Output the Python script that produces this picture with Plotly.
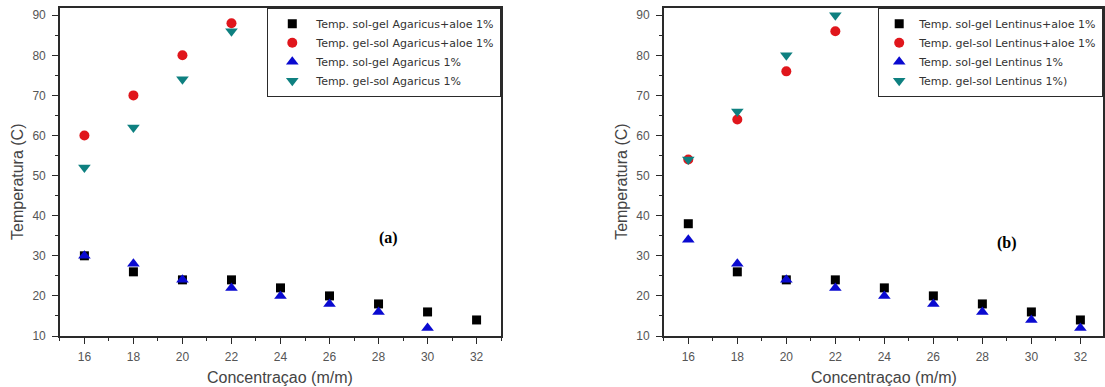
import plotly.graph_objects as go

# ---- data ----
conc = [16, 18, 20, 22, 24, 26, 28, 30, 32]
conc_gs = [16, 18, 20, 22]

# panel (a) Agaricus
a_solgel_aloe = [30, 26, 24, 24, 22, 20, 18, 16, 14]
a_gelsol_aloe = [60, 70, 80, 88]
a_solgel = [30, 28, 24, 22, 20, 18, 16, 12]
a_gelsol = [52, 62, 74, 86]

# panel (b) Lentinus
b_solgel_aloe = [38, 26, 24, 24, 22, 20, 18, 16, 14]
b_gelsol_aloe = [54, 64, 76, 86]
b_solgel = [34, 28, 24, 22, 20, 18, 16, 14, 12]
b_gelsol = [54, 66, 80, 90]

names_a = ["Temp. sol-gel Agaricus+aloe 1%", "Temp. gel-sol Agaricus+aloe 1%",
           "Temp. sol-gel Agaricus 1%", "Temp. gel-sol Agaricus 1%"]
names_b = ["Temp. sol-gel Lentinus+aloe 1%", "Temp. gel-sol Lentinus+aloe 1%",
           "Temp. sol-gel Lentinus 1%", "Temp. gel-sol Lentinus 1%)"]

x_ticks = [16, 18, 20, 22, 24, 26, 28, 30, 32]
y_ticks = [10, 20, 30, 40, 50, 60, 70, 80, 90]

BLACK = "#000000"
RED = "#e0161c"
BLUE = "#0a0ad0"
TEAL = "#0e8080"

styles = [
    dict(symbol="square", color=BLACK, size=9),
    dict(symbol="circle", color=RED, size=10),
    dict(symbol="triangle-up", color=BLUE, size=11),
    dict(symbol="triangle-down", color=TEAL, size=11),
]

W, H = 1105, 387
ML, MR, MT, MB = 0, 0, 8, 51
PH = H - MT - MB

FONT = "Arial, Liberation Sans, sans-serif"

fig = go.Figure()

def add_panel(xs_list, ys_list, names, xa, ya, legend):
    for xs, ys, nm, st in zip(xs_list, ys_list, names, styles):
        fig.add_trace(go.Scatter(
            x=xs, y=ys, mode="markers", name=nm,
            marker=dict(symbol=st["symbol"], color=st["color"], size=st["size"],
                        line=dict(width=0)),
            xaxis=xa, yaxis=ya, legend=legend, cliponaxis=False))

add_panel([conc, conc_gs, conc[:8], conc_gs],
          [a_solgel_aloe, a_gelsol_aloe, a_solgel, a_gelsol], names_a, "x", "y", "legend")
add_panel([conc, conc_gs, conc, conc_gs],
          [b_solgel_aloe, b_gelsol_aloe, b_solgel, b_gelsol], names_b, "x2", "y2", "legend2")

XR = [15, 33]
XR2 = [15, 15 + 440 / 24.55]
YR = [10, 91.8]

dom1 = [60 / W, 502 / W]
dom2 = [665 / W, 1.0]

tickfont = dict(family=FONT, size=12, color="#555555")
AX = "#2a2a2a"

def xaxis(dom, rng, anchor):
    return dict(domain=dom, range=rng, anchor=anchor, tickvals=x_ticks,
                ticks="outside", ticklen=6, tickwidth=1.3, tickcolor=AX,
                minor=dict(dtick=1, ticks="outside", ticklen=3, tickwidth=1.2, tickcolor=AX),
                showline=True, linecolor=AX, linewidth=1.5, mirror=True,
                showgrid=False, zeroline=False, tickfont=tickfont, ticklabelstandoff=3)

def yaxis(rng, anchor):
    return dict(range=rng, anchor=anchor, tickvals=y_ticks,
                ticks="outside", ticklen=6, tickwidth=1.3, tickcolor=AX,
                minor=dict(dtick=5, ticks="outside", ticklen=3, tickwidth=1.2, tickcolor=AX),
                showline=True, linecolor=AX, linewidth=1.5, mirror=True,
                showgrid=False, zeroline=False, tickfont=tickfont, ticklabelstandoff=4,
                domain=[0, 1])

def yaxis_right(rng, anchor, over):
    return dict(range=rng, anchor=anchor, overlaying=over, side="right", tickvals=y_ticks,
                ticks="inside", ticklen=6, tickwidth=1.3, tickcolor=AX,
                minor=dict(dtick=5, ticks="inside", ticklen=3, tickwidth=1.2, tickcolor=AX),
                showticklabels=False, showline=False, showgrid=False, zeroline=False)

legend_common = dict(bgcolor="white", bordercolor=AX, borderwidth=1.2,
                     font=dict(family="DejaVu Sans, sans-serif", size=11, color="#333333"),
                     yanchor="top", y=1.0, xanchor="right", itemclick=False,
                     tracegroupgap=0)

fig.update_layout(
    width=W, height=H,
    margin=dict(l=ML, r=MR, t=MT, b=MB),
    paper_bgcolor="white", plot_bgcolor="white",
    xaxis=xaxis(dom1, XR, "y"),
    yaxis=yaxis(YR, "x"),
    xaxis2=xaxis(dom2, XR2, "y2"),
    yaxis2=yaxis(YR, "x2"),
    yaxis3=yaxis_right(YR, "x", "y"),
    yaxis4=yaxis_right(YR, "x2", "y2"),
    legend=dict(legend_common, x=dom1[1], itemwidth=38),
    legend2=dict(legend_common, x=1.0),
    showlegend=True,
)

def py(p):
    return (MT + PH - p) / PH

title_font = dict(family=FONT, size=16, color="#444444")
ann = []
for dom, cx in [(dom1, 17), (dom2, 622)]:
    ann.append(dict(text="Temperatura (C)", x=cx / W, y=py(182), xref="paper", yref="paper",
                    showarrow=False, textangle=-90, font=title_font,
                    xanchor="center", yanchor="middle"))
    ann.append(dict(text="Concentraçao (m/m)", x=(dom[0] + (dom[0] + (502 - 60) / W)) / 2,
                    y=py(378), xref="paper", yref="paper", showarrow=False,
                    font=title_font, xanchor="center", yanchor="middle"))
ann.append(dict(text="<b>(a)</b>", x=28.4, y=34.5, xref="x", yref="y", showarrow=False,
                font=dict(family="Times New Roman, Liberation Serif, serif", size=16, color="black")))
ann.append(dict(text="<b>(b)</b>", x=29.0, y=33.2, xref="x2", yref="y2", showarrow=False,
                font=dict(family="Times New Roman, Liberation Serif, serif", size=16, color="black")))
fig.update_layout(annotations=ann)

fig.write_html("out.html")
